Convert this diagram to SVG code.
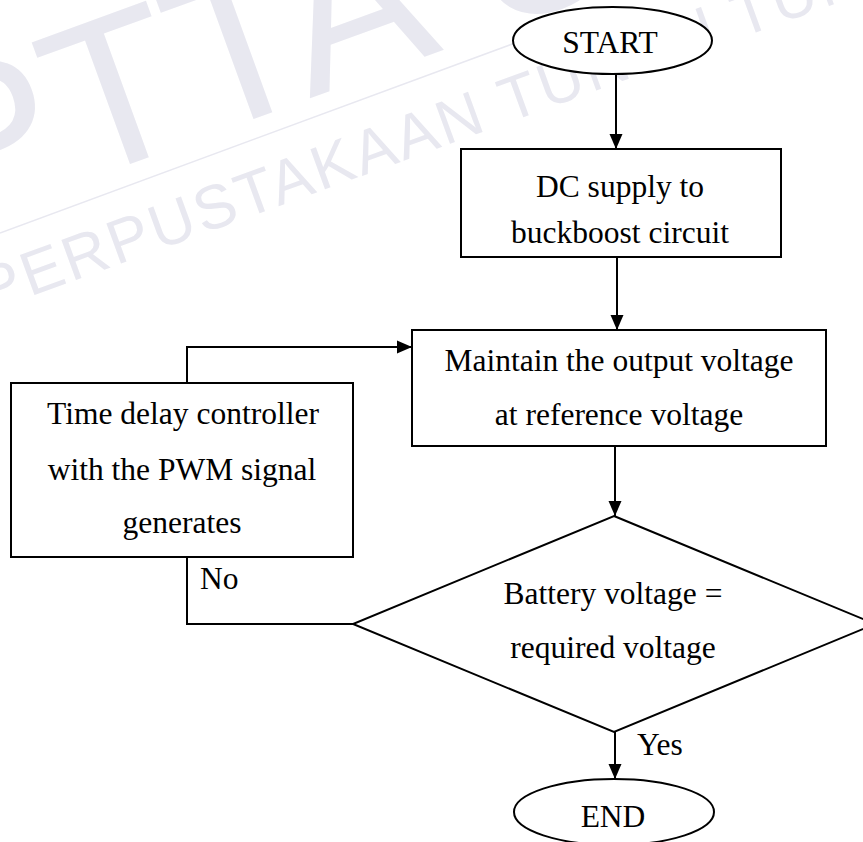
<svg xmlns="http://www.w3.org/2000/svg" width="863" height="842" viewBox="0 0 863 842">
<style>
.wm{font-family:"Liberation Sans",Arial,sans-serif;fill:#e8e8f0}
.shape{fill:#fff;stroke:#000;stroke-width:2}
.lbl{font-family:"Liberation Serif","Times New Roman",serif;font-size:31.5px;fill:#000;text-anchor:middle}
.edge{fill:none;stroke:#000;stroke-width:2}
.elbl{font-family:"Liberation Serif","Times New Roman",serif;font-size:31.5px;fill:#000}
</style>
<defs>
<marker id="arr" markerUnits="userSpaceOnUse" markerWidth="16" markerHeight="16" viewBox="0 0 16 16" refX="15" refY="8" orient="auto">
<path d="M0,1.5 L15,8 L0,14.5 Z" fill="#000"/>
</marker>
</defs>
<rect width="863" height="842" fill="#fff"/>
<g id="watermark">
<text class="wm" x="-57" y="232" font-size="215" transform="rotate(-20 -57 232)">PTTA U</text>
<line x1="0" y1="233" x2="515" y2="43" stroke="#e8e8f0" stroke-width="1.5"/>
<text class="wm" x="-12" y="312" font-size="62" letter-spacing="3" transform="rotate(-20 -12 312)">PERPUSTAKAAN TUNKU TUN AMINAH</text>
</g>
<g id="connectors">
<line class="edge" x1="616" y1="74" x2="616" y2="149" marker-end="url(#arr)"/>
<line class="edge" x1="617" y1="257" x2="617" y2="330" marker-end="url(#arr)"/>
<line class="edge" x1="615" y1="446" x2="615" y2="516" marker-end="url(#arr)"/>
<line class="edge" x1="615" y1="732" x2="615" y2="779" marker-end="url(#arr)"/>
<polyline class="edge" points="353,624 187,624 187,347 412,347" marker-end="url(#arr)"/>
<text class="elbl" x="200" y="589">No</text>
<text class="elbl" x="637" y="755">Yes</text>
</g>
<g id="start">
<ellipse class="shape" cx="612.5" cy="40.5" rx="99.5" ry="33.5"/>
<text class="lbl" x="610" y="53">START</text>
</g>
<g id="dc-supply">
<rect class="shape" x="461" y="149" width="320" height="108"/>
<text class="lbl" x="620" y="197">DC supply to</text>
<text class="lbl" x="620" y="243">buckboost circuit</text>
</g>
<g id="maintain">
<rect class="shape" x="412" y="330" width="414" height="116"/>
<text class="lbl" x="619" y="371">Maintain the output voltage</text>
<text class="lbl" x="619" y="425">at reference voltage</text>
</g>
<g id="time-delay">
<rect class="shape" x="11" y="383" width="342" height="174"/>
<text class="lbl" x="183" y="424">Time delay controller</text>
<text class="lbl" x="182" y="480">with the PWM signal</text>
<text class="lbl" x="182" y="533">generates</text>
</g>
<g id="decision">
<polygon class="shape" points="614,516 875,624 614,732 353,624"/>
<text class="lbl" x="613" y="604">Battery voltage =</text>
<text class="lbl" x="613" y="658">required voltage</text>
</g>
<g id="end">
<ellipse class="shape" cx="614" cy="812" rx="100" ry="33"/>
<text class="lbl" x="613" y="827">END</text>
</g>
</svg>
